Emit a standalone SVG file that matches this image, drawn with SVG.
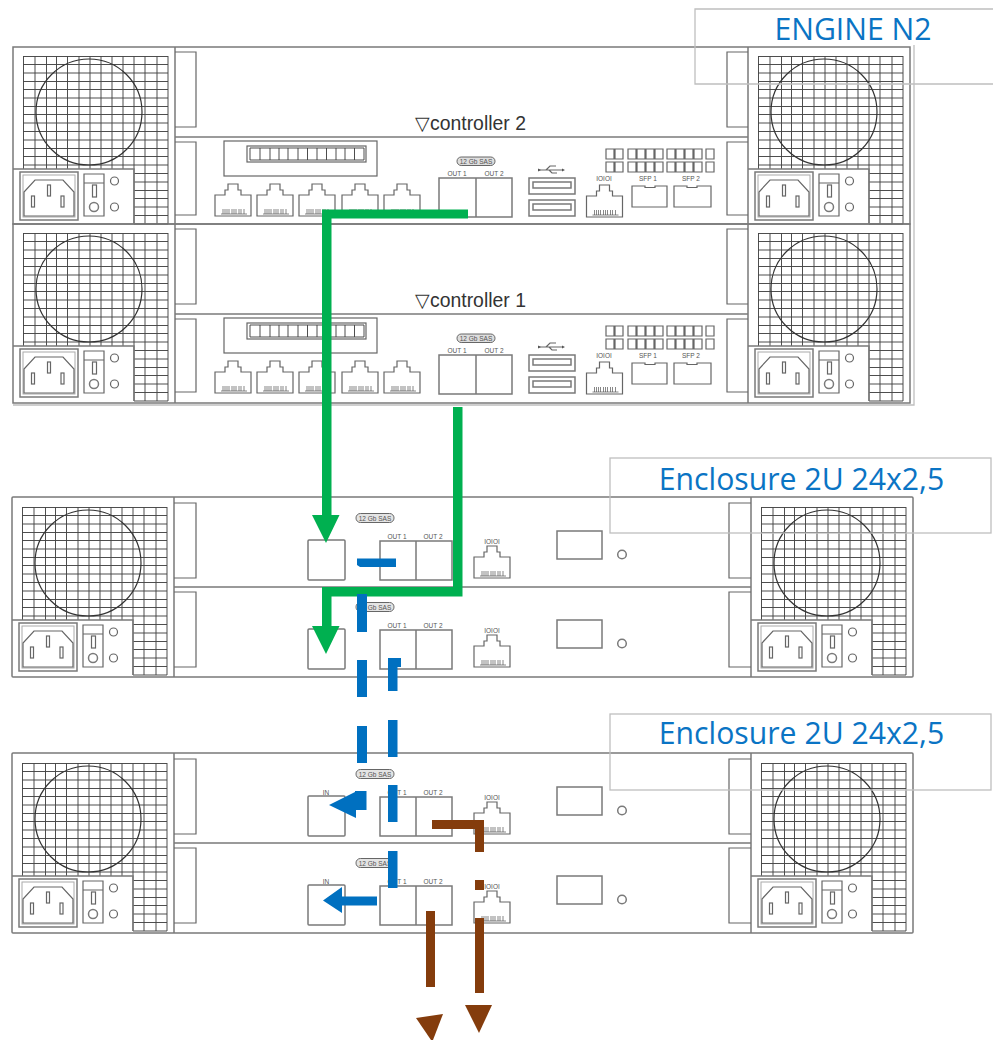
<svg xmlns="http://www.w3.org/2000/svg" xmlns:xlink="http://www.w3.org/1999/xlink" width="993" height="1040" viewBox="0 0 993 1040">
<style>
text{font-family:"Liberation Sans",Arial,sans-serif;fill:#444}
.b{fill:none;stroke:#7a7a7a;stroke-width:1.5}
.m{fill:none;stroke:#666;stroke-width:1.2}
.g{fill:none;stroke:#444;stroke-width:.95}
.c{fill:none;stroke:#333;stroke-width:1.2}
.p{fill:none;stroke:#555;stroke-width:.7}
.li{fill:none;stroke:#aaa;stroke-width:1}
.s{font-size:6.5px;text-anchor:middle;opacity:.9}
.ctl{font-size:19.4px;fill:#333}
.frame{fill:none;stroke:#bfbfbf;stroke-width:1.3}
.title{font-family:"Open Sans","Noto Sans",sans-serif;font-size:30.2px;fill:#0a74c4;text-anchor:middle}
.gr{fill:#00b050;stroke:none}
.bl{fill:#0070c0;stroke:none}
.br{fill:#843c0c;stroke:none}
</style>
<defs>
<g id="psu">
<path class="g" d="M23.500 56V169M35 56V169M46.500 56V169M56.500 56V169M67.500 56V169M79 56V169M90 56V169M101 56V169M112 56V169M123 56V169M134 56V224M145 56V224M157 56V224M168 56V224"/>
<path class="g" d="M23 56.500H168M23 64.500H168M23 73H168M23 81.500H168M23 89.500H168M23 98H168M23 106.500H168M23 114.500H168M23 123H168M23 131.500H168M23 140H168M23 148.500H168M23 156.500H168M23 165H168M134 173.500H168M134 182H168M134 190.500H168M134 198.500H168M134 207H168M134 215.500H168M134 224H168"/>
<circle class="c" cx="89" cy="112" r="53"/>
<path class="b" d="M13 169H134V224"/>
<rect class="b" x="20" y="172" width="58" height="48"/>
<rect class="li" x="23" y="175" width="52" height="42"/>
<path class="m" d="M24 216V192L35 180H63L74 192V216Z"/>
<rect class="m" x="31.500" y="196" width="3" height="11"/>
<rect class="m" x="47.500" y="185" width="3" height="11"/>
<rect class="m" x="61" y="196" width="3" height="11"/>
<path class="m" d="M84 174H104V216H84ZM84 183H104"/>
<rect class="m" x="92.500" y="185" width="4" height="12"/>
<circle class="b" cx="94" cy="207" r="4.500"/>
<circle class="m" cx="114.500" cy="181" r="4"/>
<circle class="m" cx="114.500" cy="207" r="4"/>
</g>
<g id="rj">
<path class="m" d="M0 32V11H10V6H13V0H23V6H26V11H36V32Z"/>
<path class="p" d="M6 30H32M8 25V30M10 25V30M12 25V30M14 25V30M17 25V30M19 25V30M21 25V30M24 25V30M26 25V30M29 25V30"/>
</g>
<g id="board">
<rect class="m" x="224" y="141" width="153" height="35"/>
<rect class="m" x="247" y="146" width="119" height="16"/>
<path class="g" d="M250 148H364V160H250ZM260 148V160M270 148V160M279 148V160M288 148V160M298 148V160M307.500 148V160M317 148V160M326.500 148V160M336 148V160M345 148V160M354.500 148V160"/>
<use xlink:href="#rj" href="#rj" x="215" y="184"/>
<use xlink:href="#rj" href="#rj" x="257" y="184"/>
<use xlink:href="#rj" href="#rj" x="299" y="184"/>
<use xlink:href="#rj" href="#rj" x="342" y="184"/>
<use xlink:href="#rj" href="#rj" x="384" y="184"/>
<rect x="457" y="157" width="38" height="8.500" rx="4.200" fill="#ddd" stroke="#666" stroke-width="1"/>
<text class="s" x="476" y="163.500">12 Gb SAS</text>
<text class="s" x="457" y="176">OUT 1</text>
<text class="s" x="494" y="176">OUT 2</text>
<path class="b" d="M439 178H512V217H439ZM476 178V217"/>
<path class="m" d="M539 170H563M546 170L550 166H556M549 170L552 173H557"/>
<path fill="#555" d="M538 168.500V171.500L541 170ZM562 168.500V171.500L565 170Z"/>
<path class="b" d="M529 178H575V194H529ZM533 182H571V188H533Z"/>
<path class="b" d="M529 200H575V216H529ZM533 204H571V210H533Z"/>
<text class="s" x="604" y="180.500">IOIOI</text>
<use xlink:href="#rj" href="#rj" x="586.500" y="185"/>
<text class="s" x="648" y="180.500">SFP 1</text>
<text class="s" x="691" y="180.500">SFP 2</text>
<path class="m" d="M632 186H645V187.500H655V186H667V207H632ZM674 186H687V187.500H697V186H711V207H674Z"/>
<path class="m" d="M606 149h8v10h-8zM615 149h8v10h-8zM628 149h8v10h-8zM637 149h8v10h-8zM646 149h8v10h-8zM655 149h8v10h-8zM667 149h8v10h-8zM676 149h8v10h-8zM685 149h8v10h-8zM694 149h8v10h-8zM706 149h8v10h-8z"/>
<path class="m" d="M606 162h8v10h-8zM615 162h8v10h-8zM628 162h8v10h-8zM637 162h8v10h-8zM646 162h8v10h-8zM655 162h8v10h-8zM667 162h8v10h-8zM676 162h8v10h-8zM685 162h8v10h-8zM694 162h8v10h-8zM706 162h8v10h-8z"/>
</g>
<g id="bays">
<path class="m" d="M175 52H196V127H175M175 142H196V215H175M748 52H727V127H748M748 142H727V215H748"/>
<path class="b" d="M175 137H748"/>
</g>
<g id="encrow">
<rect class="b" x="308" y="540" width="37" height="40" rx="1"/>
<rect x="356" y="513.500" width="38" height="9" rx="4.400" fill="#e4e4e4" stroke="#666" stroke-width="1"/>
<text class="s" x="375" y="520.500">12 Gb SAS</text>
<text class="s" x="397" y="538.500">OUT 1</text>
<text class="s" x="433" y="538.500">OUT 2</text>
<path class="b" d="M380 541H452V580H380ZM416 541V580"/>
<text class="s" x="492" y="543.500">IOIOI</text>
<use xlink:href="#rj" href="#rj" x="474" y="546"/>
<rect class="b" x="557" y="531" width="45" height="28"/>
<circle class="b" cx="622" cy="554.500" r="4.300"/>
</g>
<g id="enc">
<rect class="b" x="12" y="497" width="901" height="180" rx="1"/>
<use xlink:href="#psu" href="#psu" x="-1" y="451"/>
<use xlink:href="#psu" href="#psu" x="738" y="451"/>
<path class="b" d="M174 497V677M751 497V677M174 587H751"/>
<path class="m" d="M174 503H196V578H174M174 592H196V667H174M751 503H729V578H751M751 592H729V667H751"/>
</g>
</defs>
<g id="engine-frame"><path class="frame" d="M914 45V405H13"/></g>
<g id="node-controller-2">
<path class="b" d="M13 47H910V224H13ZM175 47V224M748 47V224"/>
<use xlink:href="#psu" href="#psu"/>
<use xlink:href="#psu" href="#psu" x="735"/>
<use xlink:href="#bays" href="#bays"/>
<use xlink:href="#board" href="#board"/>
<text class="ctl" x="415" y="130">▽controller 2</text>
</g>
<g id="node-controller-1">
<path class="b" d="M13 224H910V403H13ZM175 224V403M748 224V403"/>
<use xlink:href="#psu" href="#psu" y="177"/>
<use xlink:href="#psu" href="#psu" x="735" y="177"/>
<use xlink:href="#bays" href="#bays" y="177"/>
<use xlink:href="#board" href="#board" y="177"/>
<text class="ctl" x="415" y="307">▽controller 1</text>
</g>
<g id="node-enclosure-1">
<use xlink:href="#enc" href="#enc"/>
<use xlink:href="#encrow" href="#encrow"/>
<use xlink:href="#encrow" href="#encrow" y="89"/>
</g>
<g id="node-enclosure-2">
<use xlink:href="#enc" href="#enc" y="256"/>
<use xlink:href="#encrow" href="#encrow" y="256"/>
<use xlink:href="#encrow" href="#encrow" y="345"/>
<text class="s" x="326" y="794.500">IN</text>
<text class="s" x="326" y="883.500">IN</text>
</g>
<g id="label-engine"><path class="frame" d="M993 9H695V84H993"/><text class="title" x="853" y="40">ENGINE N2</text></g>
<g id="label-enclosure-1"><rect class="frame" x="610" y="458" width="381" height="75"/><text class="title" x="801.500" y="490">Enclosure 2U 24x2,5</text></g>
<g id="label-enclosure-2"><rect class="frame" x="610" y="714" width="381" height="76"/><text class="title" x="801.500" y="744">Enclosure 2U 24x2,5</text></g>
<g id="connectors">
<path class="gr" d="M468 209.500V218.500H331.500V515H339.500L326 543L312 515H322V209.500Z"/>
<path class="gr" d="M453 407H462.500V596.500H331.500V626H339.500L326 654L312 626H322V587H453Z"/>
<path class="bl" d="M357 558.500H396V567H360L357 565Z"/>
<rect class="bl" x="357" y="594" width="10" height="38"/>
<rect class="bl" x="357" y="660" width="10" height="37"/>
<rect class="bl" x="357" y="726" width="10" height="37"/>
<path class="bl" d="M388 658H401V667H397.500V691H388Z"/>
<rect class="bl" x="388" y="720" width="9.500" height="37"/>
<rect class="bl" x="388" y="785" width="9.500" height="37"/>
<rect class="bl" x="388" y="851" width="9.500" height="37"/>
<path class="bl" d="M355 791H366.500V810H356V818L329 805L355 792Z"/>
<path class="bl" d="M377 896.500V905.500H342V913L323 900.500L342 887V896.500Z"/>
<path class="br" d="M432 820H484V852H475V829H432Z"/>
<rect class="br" x="475" y="880" width="9" height="10"/>
<rect class="br" x="475" y="918" width="9" height="75"/>
<rect class="br" x="426" y="911" width="9" height="76"/>
<path class="br" d="M465 1005H492L479 1033Z"/>
<path class="br" d="M416 1018L443 1014L433 1040H431Z"/>
</g>
</svg>
